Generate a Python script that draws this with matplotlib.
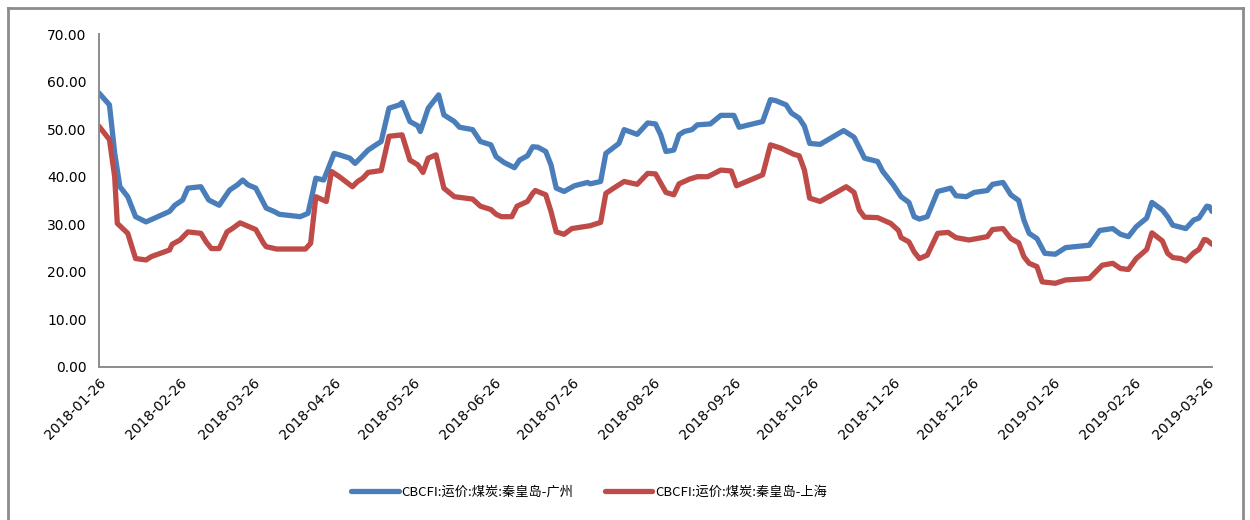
import matplotlib
matplotlib.use("Agg")
import matplotlib.pyplot as plt
import matplotlib.dates as mdates
from matplotlib.lines import Line2D
import pandas as pd

plt.rcParams['font.family'] = ['DejaVu Sans', 'Noto Sans CJK SC']

guangzhou_dates = [
    "2018-01-26", "2018-01-30", "2018-02-01", "2018-02-03", "2018-02-06", "2018-02-09",
    "2018-02-13", "2018-02-22", "2018-02-24", "2018-02-27", "2018-03-01", "2018-03-06",
    "2018-03-09", "2018-03-13", "2018-03-17", "2018-03-20", "2018-03-22", "2018-03-24",
    "2018-03-27", "2018-03-31", "2018-04-03", "2018-04-05", "2018-04-13", "2018-04-16",
    "2018-04-19", "2018-04-22", "2018-04-26", "2018-04-28", "2018-05-02", "2018-05-04",
    "2018-05-06", "2018-05-09", "2018-05-12", "2018-05-14", "2018-05-17", "2018-05-21",
    "2018-05-22", "2018-05-25", "2018-05-28", "2018-05-29", "2018-06-01", "2018-06-05",
    "2018-06-07", "2018-06-11", "2018-06-13", "2018-06-18", "2018-06-21", "2018-06-25",
    "2018-06-27", "2018-06-30", "2018-07-04", "2018-07-06", "2018-07-09", "2018-07-11",
    "2018-07-13", "2018-07-16", "2018-07-18", "2018-07-20", "2018-07-23", "2018-07-27",
    "2018-08-01", "2018-08-02", "2018-08-06", "2018-08-08", "2018-08-13", "2018-08-15",
    "2018-08-17", "2018-08-20", "2018-08-24", "2018-08-27", "2018-08-29", "2018-08-31",
    "2018-09-03", "2018-09-05", "2018-09-07", "2018-09-10", "2018-09-12", "2018-09-17",
    "2018-09-21", "2018-09-26", "2018-09-28", "2018-10-07", "2018-10-10", "2018-10-12",
    "2018-10-16", "2018-10-18", "2018-10-21", "2018-10-23", "2018-10-25", "2018-10-29",
    "2018-11-07", "2018-11-11", "2018-11-15", "2018-11-20", "2018-11-22", "2018-11-26",
    "2018-11-29", "2018-12-02", "2018-12-04", "2018-12-06", "2018-12-09", "2018-12-13",
    "2018-12-18", "2018-12-20", "2018-12-24", "2018-12-27", "2019-01-01", "2019-01-03",
    "2019-01-07", "2019-01-10", "2019-01-13", "2019-01-15", "2019-01-17", "2019-01-20",
    "2019-01-23", "2019-01-27", "2019-01-31", "2019-02-09", "2019-02-13", "2019-02-18",
    "2019-02-21", "2019-02-24", "2019-02-27", "2019-03-03", "2019-03-05", "2019-03-09",
    "2019-03-11", "2019-03-13", "2019-03-18", "2019-03-21", "2019-03-23", "2019-03-26",
    "2019-03-27", "2019-03-28",
]
guangzhou_values = [
    57.6, 55.1, 45.0, 37.9, 35.8, 31.6,
    30.5, 32.7, 34.0, 35.1, 37.6, 37.9,
    35.1, 34.0, 37.2, 38.3, 39.3, 38.3,
    37.6, 33.4, 32.7, 32.1, 31.6, 32.3,
    39.7, 39.3, 44.9, 44.6, 43.9, 42.8,
    43.9, 45.6, 46.7, 47.4, 54.4, 55.1,
    55.6, 51.6, 50.7, 49.5, 54.4, 57.2,
    53.0, 51.6, 50.4, 49.9, 47.4, 46.7,
    44.2, 43.0, 41.9, 43.5, 44.4, 46.3,
    46.2, 45.3, 42.5, 37.6, 36.9, 38.1,
    38.8, 38.5, 39.0, 44.9, 47.0, 49.9,
    49.5, 48.9, 51.3, 51.1, 48.8, 45.3,
    45.6, 48.8, 49.5, 49.9, 50.9, 51.1,
    52.9, 52.9, 50.4, 51.6, 56.2, 56.0,
    55.1, 53.4, 52.3, 50.6, 47.0, 46.8,
    49.7, 48.3, 43.9, 43.2, 41.1, 38.3,
    35.8, 34.6, 31.6, 31.1, 31.6, 36.9,
    37.6, 36.0, 35.8, 36.7, 37.1, 38.4,
    38.8, 36.2, 35.0, 30.9, 28.1, 27.0,
    23.9, 23.7, 25.1, 25.6, 28.7, 29.1,
    27.9, 27.4, 29.5, 31.3, 34.6, 33.0,
    31.6, 29.8, 29.1, 30.9, 31.3, 33.8,
    33.7, 32.7,
]

shanghai_dates = [
    "2018-01-26", "2018-01-30", "2018-02-01", "2018-02-02", "2018-02-06", "2018-02-08",
    "2018-02-09", "2018-02-13", "2018-02-15", "2018-02-22", "2018-02-23", "2018-02-26",
    "2018-03-01", "2018-03-06", "2018-03-08", "2018-03-10", "2018-03-13", "2018-03-16",
    "2018-03-18", "2018-03-21", "2018-03-24", "2018-03-27", "2018-03-30", "2018-03-31",
    "2018-04-04", "2018-04-15", "2018-04-17", "2018-04-19", "2018-04-23", "2018-04-25",
    "2018-04-28", "2018-05-03", "2018-05-05", "2018-05-07", "2018-05-09", "2018-05-14",
    "2018-05-17", "2018-05-22", "2018-05-25", "2018-05-28", "2018-05-30", "2018-06-01",
    "2018-06-04", "2018-06-07", "2018-06-11", "2018-06-18", "2018-06-21", "2018-06-25",
    "2018-06-27", "2018-06-29", "2018-07-03", "2018-07-05", "2018-07-09", "2018-07-11",
    "2018-07-12", "2018-07-16", "2018-07-18", "2018-07-20", "2018-07-23", "2018-07-26",
    "2018-08-02", "2018-08-06", "2018-08-08", "2018-08-11", "2018-08-15", "2018-08-20",
    "2018-08-24", "2018-08-27", "2018-08-31", "2018-09-03", "2018-09-05", "2018-09-09",
    "2018-09-12", "2018-09-16", "2018-09-21", "2018-09-25", "2018-09-27", "2018-10-07",
    "2018-10-10", "2018-10-14", "2018-10-19", "2018-10-21", "2018-10-23", "2018-10-25",
    "2018-10-29", "2018-11-08", "2018-11-11", "2018-11-13", "2018-11-15", "2018-11-20",
    "2018-11-25", "2018-11-28", "2018-11-29", "2018-12-02", "2018-12-04", "2018-12-06",
    "2018-12-09", "2018-12-13", "2018-12-17", "2018-12-20", "2018-12-25", "2019-01-01",
    "2019-01-03", "2019-01-07", "2019-01-10", "2019-01-13", "2019-01-15", "2019-01-17",
    "2019-01-20", "2019-01-22", "2019-01-27", "2019-01-31", "2019-02-09", "2019-02-14",
    "2019-02-18", "2019-02-21", "2019-02-24", "2019-02-27", "2019-03-03", "2019-03-05",
    "2019-03-09", "2019-03-11", "2019-03-13", "2019-03-16", "2019-03-18", "2019-03-21",
    "2019-03-23", "2019-03-25", "2019-03-26", "2019-03-28",
]
shanghai_values = [
    50.6, 47.8, 40.0, 30.2, 28.1, 24.6,
    22.8, 22.5, 23.2, 24.6, 25.8, 26.7,
    28.4, 28.1, 26.3, 24.9, 24.9, 28.4,
    29.1, 30.3, 29.6, 28.9, 26.0, 25.3,
    24.8, 24.8, 26.0, 35.8, 34.8, 41.1,
    40.0, 37.9, 39.0, 39.7, 40.9, 41.3,
    48.5, 48.8, 43.5, 42.5, 40.9, 43.9,
    44.6, 37.6, 35.8, 35.3, 33.8, 33.1,
    32.1, 31.6, 31.6, 33.8, 34.8, 36.5,
    37.1, 36.2, 32.7, 28.4, 27.9, 29.1,
    29.7, 30.4, 36.5, 37.6, 39.0, 38.4,
    40.7, 40.6, 36.7, 36.2, 38.5, 39.5,
    40.0, 40.0, 41.4, 41.2, 38.1, 40.4,
    46.7, 46.0, 44.7, 44.4, 41.4, 35.5,
    34.8, 37.9, 36.7, 33.0, 31.5, 31.4,
    30.2, 28.7, 27.2, 26.3, 24.2, 22.8,
    23.5, 28.1, 28.3, 27.2, 26.7, 27.4,
    28.9, 29.1, 27.0, 26.1, 23.2, 21.8,
    21.1, 17.9, 17.6, 18.3, 18.6, 21.4,
    21.8, 20.7, 20.5, 22.8, 24.7, 28.2,
    26.5, 23.9, 23.0, 22.8, 22.3, 24.0,
    24.7, 26.8, 26.7, 25.8,
]

series_labels = ["CBCFI:运价:煤炭:秦皇岛-广州", "CBCFI:运价:煤炭:秦皇岛-上海"]
tick_dates = ["2018-01-26", "2018-02-26", "2018-03-26", "2018-04-26", "2018-05-26",
              "2018-06-26", "2018-07-26", "2018-08-26", "2018-09-26", "2018-10-26",
              "2018-11-26", "2018-12-26", "2019-01-26", "2019-02-26", "2019-03-26"]
y_ticks = [0, 10, 20, 30, 40, 50, 60, 70]

blue = "#4A7EBB"
red = "#BE4B48"
axis_gray = "#8C8C8C"

fig = plt.figure(figsize=(12.5, 5.2), dpi=100)
ax = fig.add_axes([99 / 1250, 1 - 367 / 520, (1212 - 99) / 1250, (367 - 34) / 520])

lw = 3.8
ax.plot(pd.to_datetime(guangzhou_dates), guangzhou_values, color=blue, lw=lw,
        solid_joinstyle='round', solid_capstyle='round', label=series_labels[0])
ax.plot(pd.to_datetime(shanghai_dates), shanghai_values, color=red, lw=lw,
        solid_joinstyle='round', solid_capstyle='round', label=series_labels[1])

ax.set_xlim(pd.Timestamp("2018-01-26"), pd.Timestamp("2019-03-28"))
ax.set_ylim(0, 70)
ax.set_yticks(y_ticks)
ax.set_yticklabels([f"{v:.2f}" for v in y_ticks], fontsize=10)
ax.set_xticks(pd.to_datetime(tick_dates))
ax.set_xticklabels(tick_dates, rotation=45, ha='right', rotation_mode='anchor', fontsize=10)
ax.tick_params(axis='both', length=0, pad=9)
ax.tick_params(axis='x', pad=6)

for s in ['top', 'right']:
    ax.spines[s].set_visible(False)
for s in ['left', 'bottom']:
    ax.spines[s].set_color(axis_gray)
    ax.spines[s].set_linewidth(1.4)

# outer frame
fx0, fx1, fy1 = 8 / 1250, 1243 / 1250, 1 - 8 / 520
frame_kw = dict(color="#8C8C8C", lw=2.0, transform=fig.transFigure)
fig.add_artist(Line2D([fx0, fx1], [fy1, fy1], **frame_kw))
fig.add_artist(Line2D([fx0, fx0], [fy1, -0.01], **frame_kw))
fig.add_artist(Line2D([fx1, fx1], [fy1, -0.01], **frame_kw))

leg = fig.legend(loc='center', bbox_to_anchor=(589 / 1250, 1 - 492 / 520), ncol=2,
                 frameon=False, handlelength=3.6, handletextpad=0.2, columnspacing=2.4,
                 prop={'family': ['Noto Sans CJK SC', 'DejaVu Sans'], 'size': 9.5})

fig.savefig("out.png", dpi=100, facecolor='white')
